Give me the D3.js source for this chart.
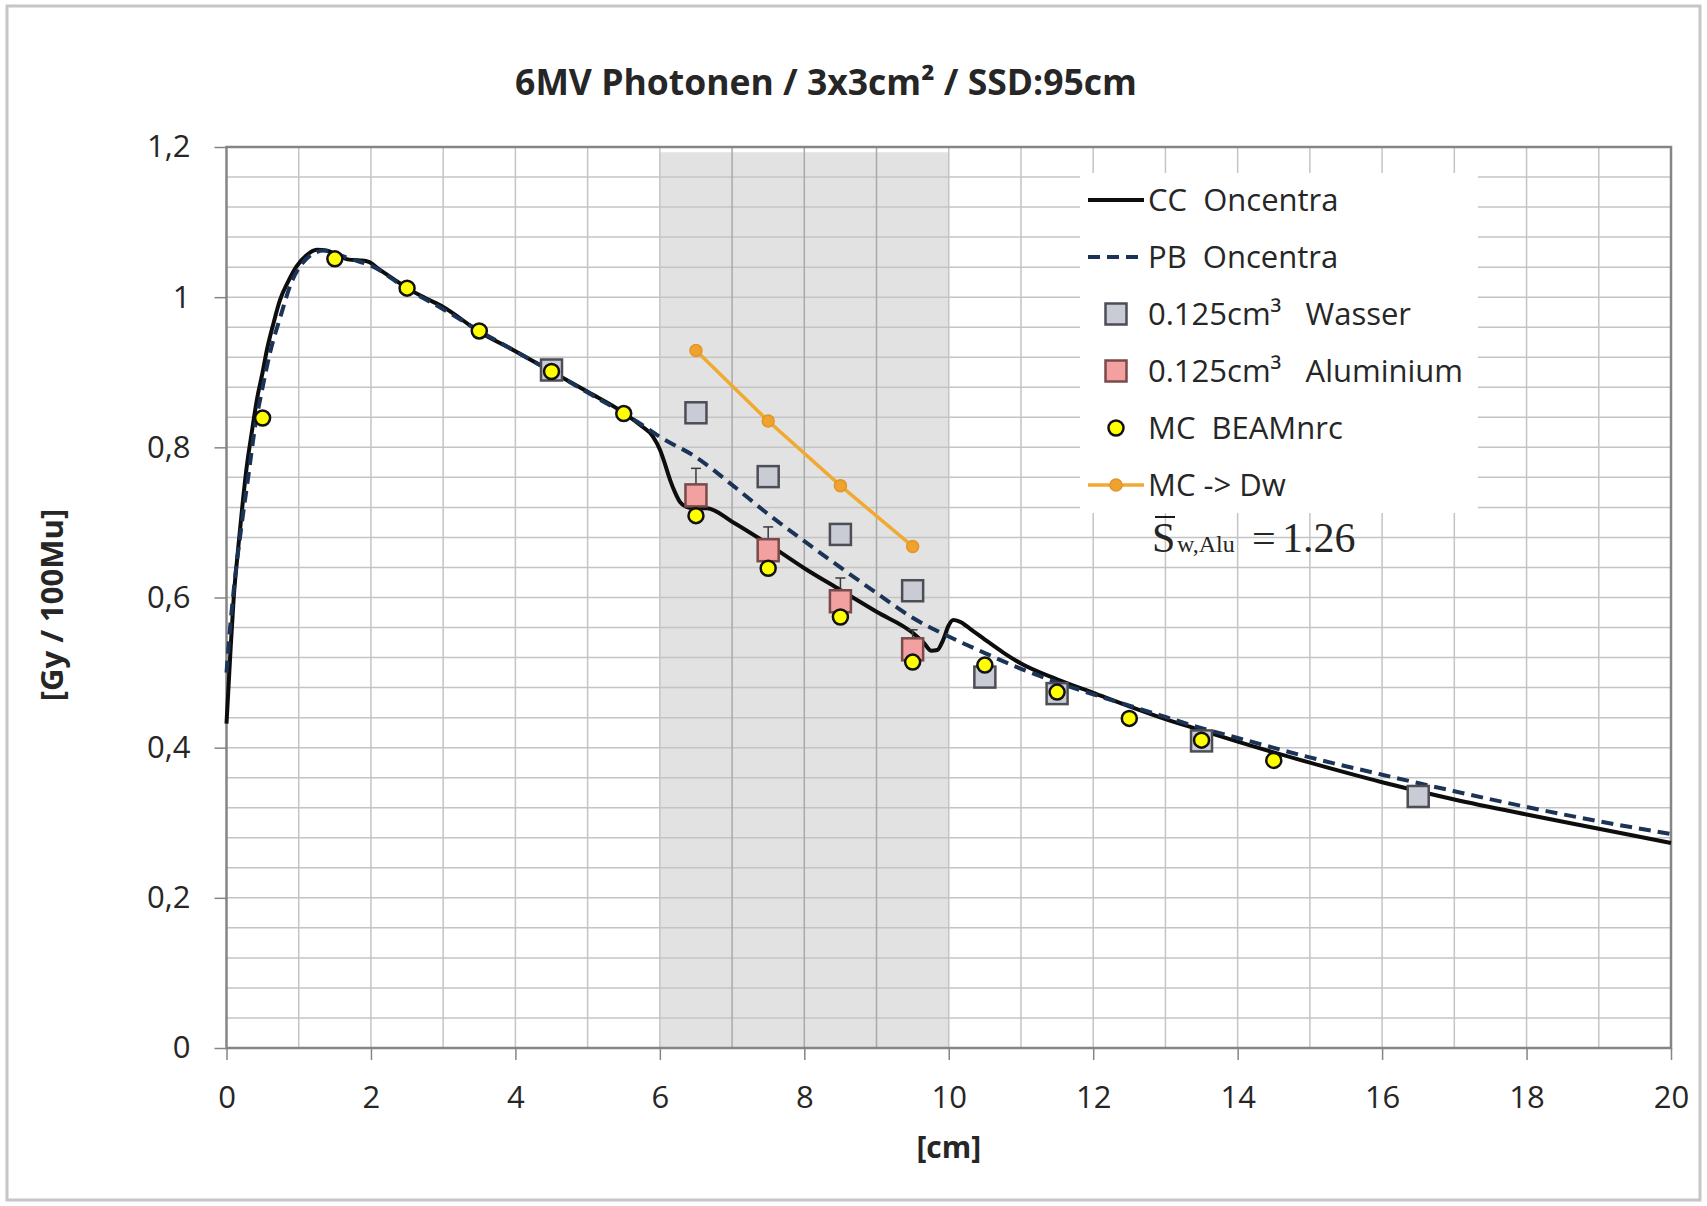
<!DOCTYPE html>
<html>
<head>
<meta charset="utf-8">
<script src="https://cdnjs.cloudflare.com/ajax/libs/d3/7.8.5/d3.min.js"></script>
<style>
  body { margin: 0; background: #fff; }
  text { font-family: "Open Sans", sans-serif; fill: #262626; }
</style>
</head>
<body>
<div id="chart"></div>
<script>
// depth [cm] / dose [Gy / 100Mu]
var ccDepth = [0, 0.05, 0.1, 0.16, 0.22, 0.28, 0.35, 0.42, 0.5, 0.56, 0.65, 0.74, 0.85, 0.97, 1.1, 1.25, 1.4, 1.53, 1.7, 1.85, 1.97, 2.1, 2.3, 2.5, 2.75, 3.0, 3.5, 4.0, 4.5, 5.0, 5.5, 5.75, 5.9, 6.0, 6.07, 6.14, 6.21, 6.28, 6.36, 6.46, 6.65, 7.0, 7.5, 8.0, 8.5, 9.0, 9.5, 9.65, 9.76, 9.84, 9.92, 10.0, 10.06, 10.15, 10.3, 10.5, 10.75, 11.0, 11.5, 12.0, 12.5, 13.0, 13.5, 14.0, 15.0, 16.0, 17.0, 18.0, 19.0, 20.0];
var ccDose = [0.432, 0.52, 0.60, 0.664, 0.722, 0.774, 0.82, 0.863, 0.90, 0.93, 0.965, 0.996, 1.02, 1.041, 1.055, 1.063, 1.062, 1.056, 1.05, 1.049, 1.047, 1.038, 1.025, 1.012, 0.999, 0.987, 0.954, 0.928, 0.901, 0.874, 0.846, 0.828, 0.815, 0.797, 0.778, 0.757, 0.74, 0.727, 0.721, 0.719, 0.719, 0.701, 0.671, 0.639, 0.61, 0.581, 0.553, 0.54, 0.529, 0.53, 0.543, 0.563, 0.57, 0.568, 0.558, 0.544, 0.527, 0.512, 0.491, 0.473, 0.455, 0.438, 0.423, 0.408, 0.38, 0.354, 0.331, 0.311, 0.292, 0.273];

var pbDepth = [0, 0.05, 0.1, 0.2, 0.3, 0.4, 0.5, 0.6, 0.75, 0.9, 1.05, 1.2, 1.35, 1.5, 1.75, 2.0, 2.5, 3.0, 3.5, 4.0, 4.5, 5.0, 5.5, 5.8, 6.0, 6.5, 7.0, 7.5, 8.0, 8.5, 9.0, 9.5, 10.0, 10.5, 11.0, 11.5, 12.0, 12.5, 13.0, 13.5, 14.0, 15.0, 16.0, 17.0, 18.0, 19.0, 20.0];
var pbDose = [0.50, 0.56, 0.61, 0.69, 0.76, 0.83, 0.88, 0.925, 0.975, 1.02, 1.045, 1.058, 1.062, 1.058, 1.05, 1.042, 1.011, 0.984, 0.955, 0.928, 0.901, 0.873, 0.845, 0.827, 0.814, 0.787, 0.75, 0.711, 0.675, 0.64, 0.606, 0.573, 0.548, 0.526, 0.505, 0.487, 0.471, 0.456, 0.441, 0.426, 0.413, 0.387, 0.364, 0.342, 0.321, 0.302, 0.285];

var mcDepth = [0.5, 1.5, 2.5, 3.5, 4.5, 5.5, 6.5, 7.5, 8.5, 9.5, 10.5, 11.5, 12.5, 13.5, 14.5];
var mcDose = [0.839, 1.051, 1.012, 0.955, 0.901, 0.845, 0.709, 0.639, 0.574, 0.514, 0.510, 0.474, 0.439, 0.410, 0.383];

var wasserDepth = [4.5, 6.5, 7.5, 8.5, 9.5, 10.5, 11.5, 13.5, 16.5];
var wasserDose = [0.903, 0.846, 0.761, 0.684, 0.609, 0.494, 0.472, 0.409, 0.335];

var aluDepth = [6.5, 7.5, 8.5, 9.5];
var aluDose = [0.736, 0.663, 0.595, 0.531];
var aluErr = [0.036, 0.031, 0.031, 0.026];

var dwDepth = [6.5, 7.5, 8.5, 9.5];
var dwDose = [0.929, 0.835, 0.749, 0.668];

var slab = [6, 10];          // aluminium insert, shaded
var slabTop = 1.193;
var xTicks = [0, 2, 4, 6, 8, 10, 12, 14, 16, 18, 20];
var yTicks = [0, 0.2, 0.4, 0.6, 0.8, 1, 1.2];
var legendLabels = ['CC  Oncentra', 'PB  Oncentra', '0.125cm\u00b3   Wasser', '0.125cm\u00b3   Aluminium', 'MC  BEAMnrc', 'MC -> Dw'];

var width = 1707;
var height = 1206;
var plotL = 226.5, plotR = 1671, plotT = 147, plotB = 1048;

var gridColor = '#c4c4c4';
var axisColor = '#858585';

var svg = d3.select('#chart')
  .append('svg')
  .attr('width', width)
  .attr('height', height);

// outer frame of the chart
svg.append('rect')
  .attr('x', 7).attr('y', 6)
  .attr('width', 1693).attr('height', 1194)
  .attr('fill', '#fff')
  .attr('stroke', '#c6c6c6')
  .attr('stroke-width', 3);

var x = d3.scaleLinear().domain([0, 20]).range([plotL, plotR]);
var y = d3.scaleLinear().domain([0, 1.2]).range([plotB, plotT]);

// shaded aluminium slab
svg.append('rect')
  .attr('x', x(slab[0]))
  .attr('y', y(slabTop))
  .attr('width', x(slab[1]) - x(slab[0]))
  .attr('height', y(0) - y(slabTop))
  .attr('fill', '#e2e2e2');

// grid
svg.append('g')
  .selectAll('line')
  .data(d3.range(1, 30).map(function(i) { return i * 0.04; }))
  .enter()
  .append('line')
  .attr('x1', plotL).attr('x2', plotR)
  .attr('y1', function(d) { return y(d); })
  .attr('y2', function(d) { return y(d); })
  .attr('stroke', gridColor)
  .attr('stroke-width', 1.5);

svg.append('g')
  .selectAll('line')
  .data(d3.range(1, 20))
  .enter()
  .append('line')
  .attr('y1', plotT).attr('y2', plotB)
  .attr('x1', function(d) { return x(d); })
  .attr('x2', function(d) { return x(d); })
  .attr('stroke', function(d) { return (d > slab[0] && d < slab[1]) ? '#a9a9a9' : gridColor; })
  .attr('stroke-width', 1.5);

// plot frame
svg.append('rect')
  .attr('x', plotL).attr('y', plotT)
  .attr('width', plotR - plotL).attr('height', plotB - plotT)
  .attr('fill', 'none')
  .attr('stroke', axisColor)
  .attr('stroke-width', 2.5);

// axes
var comma = d3.formatLocale({ decimal: ',', thousands: '.', grouping: [3], currency: ['', ''] });

var xAxis = svg.append('g')
  .attr('transform', 'translate(0,' + plotB + ')')
  .call(d3.axisBottom(x).tickValues(xTicks).tickSize(12).tickPadding(26).tickFormat(d3.format('d')));

var yAxis = svg.append('g')
  .attr('transform', 'translate(' + plotL + ',0)')
  .call(d3.axisLeft(y).tickValues(yTicks).tickSize(12).tickPadding(24).tickFormat(comma.format('~g')));

[xAxis, yAxis].forEach(function(a) {
  a.select('.domain').remove();
  a.selectAll('.tick line').attr('stroke', axisColor).attr('stroke-width', 1.5);
  a.selectAll('.tick text')
    .style('font-family', '"Open Sans", sans-serif')
    .style('font-size', '31px')
    .attr('fill', '#262626');
});

// curves
var line = d3.line()
  .x(function(d) { return x(d[0]); })
  .y(function(d) { return y(d[1]); })
  .curve(d3.curveMonotoneX);

svg.append('path')
  .datum(d3.zip(ccDepth, ccDose))
  .attr('d', line)
  .attr('fill', 'none')
  .attr('stroke', '#0d0d0d')
  .attr('stroke-width', 4);

svg.append('path')
  .datum(d3.zip(pbDepth, pbDose))
  .attr('d', line)
  .attr('fill', 'none')
  .attr('stroke', '#1c3358')
  .attr('stroke-width', 4)
  .attr('stroke-dasharray', '12,7');

// measured points, Wasser
svg.append('g')
  .selectAll('rect')
  .data(d3.zip(wasserDepth, wasserDose))
  .enter()
  .append('rect')
  .attr('x', function(d) { return x(d[0]) - 10.5; })
  .attr('y', function(d) { return y(d[1]) - 10.5; })
  .attr('width', 21).attr('height', 21)
  .attr('fill', '#c9ccd5')
  .attr('stroke', '#4d4d55')
  .attr('stroke-width', 2.5);

// measured points, Aluminium with error bars
var alu = svg.append('g')
  .selectAll('g')
  .data(d3.zip(aluDepth, aluDose, aluErr))
  .enter()
  .append('g');

alu.append('line')
  .attr('x1', function(d) { return x(d[0]); })
  .attr('x2', function(d) { return x(d[0]); })
  .attr('y1', function(d) { return y(d[1] + d[2]); })
  .attr('y2', function(d) { return y(d[1] - d[2]); })
  .attr('stroke', '#3a3a3a').attr('stroke-width', 1.5);

alu.append('line')
  .attr('x1', function(d) { return x(d[0]) - 5; })
  .attr('x2', function(d) { return x(d[0]) + 5; })
  .attr('y1', function(d) { return y(d[1] + d[2]); })
  .attr('y2', function(d) { return y(d[1] + d[2]); })
  .attr('stroke', '#3a3a3a').attr('stroke-width', 1.5);

alu.append('rect')
  .attr('x', function(d) { return x(d[0]) - 10.5; })
  .attr('y', function(d) { return y(d[1]) - 11; })
  .attr('width', 21).attr('height', 22)
  .attr('fill', '#f2a0a0')
  .attr('stroke', '#7a4a4a')
  .attr('stroke-width', 2.5);

// Monte Carlo points
svg.append('g')
  .selectAll('circle')
  .data(d3.zip(mcDepth, mcDose))
  .enter()
  .append('circle')
  .attr('cx', function(d) { return x(d[0]); })
  .attr('cy', function(d) { return y(d[1]); })
  .attr('r', 7.5)
  .attr('fill', '#ffff00')
  .attr('stroke', '#111')
  .attr('stroke-width', 2.5);

// MC converted to water
svg.append('path')
  .datum(d3.zip(dwDepth, dwDose))
  .attr('d', d3.line().x(function(d) { return x(d[0]); }).y(function(d) { return y(d[1]); }))
  .attr('fill', 'none')
  .attr('stroke', '#f0aa32')
  .attr('stroke-width', 3.5);

svg.append('g')
  .selectAll('circle')
  .data(d3.zip(dwDepth, dwDose))
  .enter()
  .append('circle')
  .attr('cx', function(d) { return x(d[0]); })
  .attr('cy', function(d) { return y(d[1]); })
  .attr('r', 6)
  .attr('fill', '#efa22e')
  .attr('stroke', '#e0952a')
  .attr('stroke-width', 1.5);

// legend
var lgX = 1080, lgY = 173, rowH = 57;
svg.append('rect')
  .attr('x', lgX).attr('y', lgY)
  .attr('width', 398).attr('height', 340)
  .attr('fill', '#fff');

var legend = svg.selectAll('.legend')
  .data(legendLabels)
  .enter()
  .append('g')
  .attr('class', 'legend')
  .attr('transform', function(d, i) { return 'translate(' + (lgX + 36) + ',' + (lgY + 27 + i * rowH) + ')'; });

legend.append('text')
  .attr('x', 32)
  .attr('dy', '0.36em')
  .style('font-size', '31px')
  .style('white-space', 'pre')
  .text(function(d) { return d; });

legend.each(function(d, i) {
  var g = d3.select(this);
  if (i === 0) {
    g.append('line').attr('x1', -28).attr('x2', 28).attr('stroke', '#0d0d0d').attr('stroke-width', 4);
  } else if (i === 1) {
    g.append('line').attr('x1', -28).attr('x2', 28).attr('stroke', '#1c3358').attr('stroke-width', 4).attr('stroke-dasharray', '12,7');
  } else if (i === 2 || i === 3) {
    g.append('rect').attr('x', -10.5).attr('y', -10.5).attr('width', 21).attr('height', 21)
      .attr('fill', i === 2 ? '#c9ccd5' : '#f2a0a0')
      .attr('stroke', i === 2 ? '#4d4d55' : '#7a4a4a')
      .attr('stroke-width', 2.5);
  } else if (i === 4) {
    g.append('circle').attr('r', 7.5).attr('fill', '#ffff00').attr('stroke', '#111').attr('stroke-width', 2.5);
  } else {
    g.append('line').attr('x1', -28).attr('x2', 28).attr('stroke', '#f0aa32').attr('stroke-width', 3.5);
    g.append('circle').attr('r', 6).attr('fill', '#efa22e').attr('stroke', '#e0952a').attr('stroke-width', 1.5);
  }
});

// stopping power ratio note
var serif = '"Liberation Serif", "Times New Roman", serif';
var note = svg.append('g').attr('transform', 'translate(1152,552)');
note.append('text')
  .style('font-family', serif)
  .style('font-size', '42px').attr('fill', '#000')
  .text('S');
note.append('line')
  .attr('x1', 3).attr('x2', 23).attr('y1', -35).attr('y2', -35)
  .attr('stroke', '#000').attr('stroke-width', 1.8);
note.append('text')
  .attr('x', 25)
  .style('font-family', serif)
  .style('font-size', '24px').attr('fill', '#000')
  .text('w,Alu');
note.append('text')
  .attr('x', 100)
  .style('font-family', serif)
  .style('font-size', '42px').attr('fill', '#000')
  .text('=');
note.append('text')
  .attr('x', 130)
  .style('font-family', serif)
  .style('font-size', '42px').attr('fill', '#000')
  .text('1.26');

// titles
svg.append('text')
  .attr('x', 826).attr('y', 95)
  .attr('text-anchor', 'middle')
  .style('font-size', '35.5px').style('font-weight', 'bold')
  .attr('fill', '#111')
  .text('6MV Photonen / 3x3cm\u00b2 / SSD:95cm');

svg.append('text')
  .attr('x', (plotL + plotR) / 2).attr('y', 1158)
  .attr('text-anchor', 'middle')
  .style('font-size', '30px').style('font-weight', 'bold')
  .attr('fill', '#111')
  .text('[cm]');

svg.append('text')
  .attr('transform', 'translate(63,605) rotate(-90)')
  .attr('text-anchor', 'middle')
  .style('font-size', '31px').style('font-weight', 'bold')
  .attr('fill', '#111')
  .text('[Gy / 100Mu]');
</script>
</body>
</html>
